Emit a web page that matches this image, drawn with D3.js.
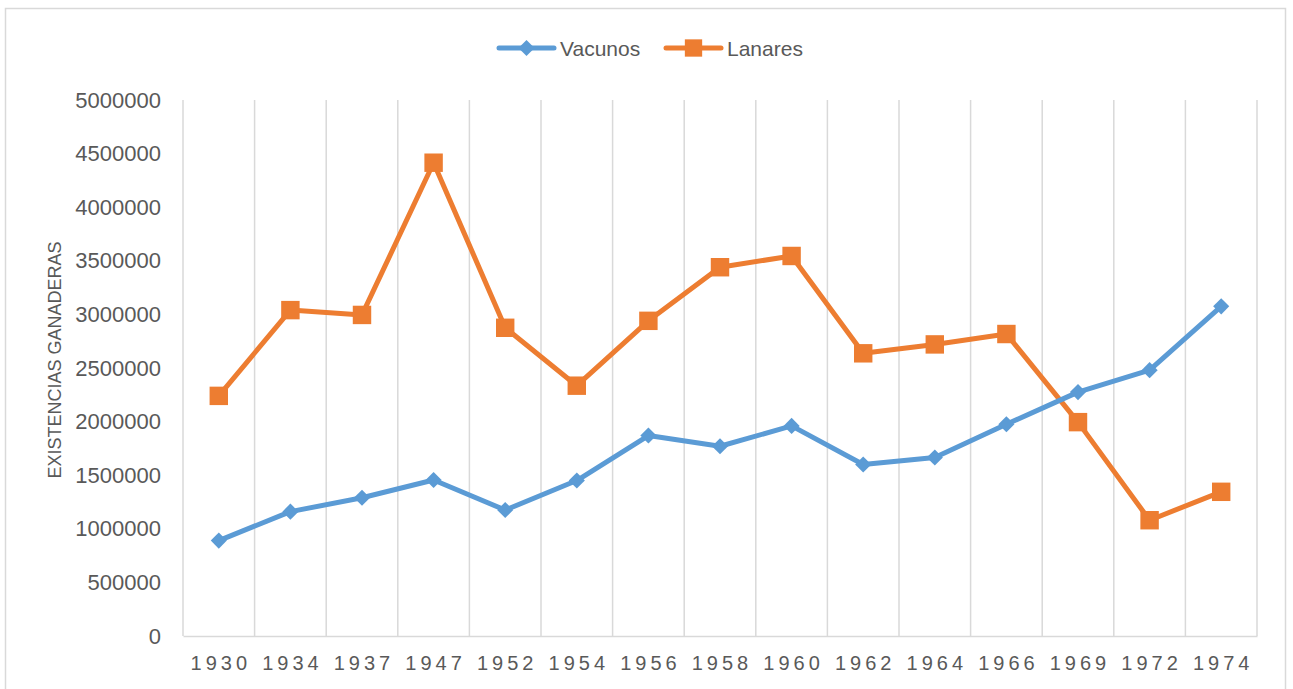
<!DOCTYPE html>
<html>
<head>
<meta charset="utf-8">
<script src="https://cdn.jsdelivr.net/npm/d3@7"></script>
<style>
  body { margin: 0; background: #fff; }
  text { font-family: "Liberation Sans", Arial, sans-serif; fill: #595959; }
</style>
</head>
<body>
<svg id="chart" width="1293" height="689"></svg>
<script>
// data
var years = ["1930", "1934", "1937", "1947", "1952", "1954", "1956", "1958",
             "1960", "1962", "1964", "1966", "1969", "1972", "1974"];
var vacunos = [890000, 1160000, 1290000, 1455000, 1175000, 1450000, 1870000, 1770000,
               1960000, 1600000, 1665000, 1975000, 2275000, 2480000, 3075000];
var lanares = [2240000, 3040000, 2995000, 4415000, 2875000, 2335000, 2940000, 3440000,
               3545000, 2637000, 2720000, 2817000, 1995000, 1080000, 1345000];
var yTicks = [0, 500000, 1000000, 1500000, 2000000, 2500000, 3000000, 3500000,
              4000000, 4500000, 5000000];

var blue = "#5B9BD5", orange = "#ED7D31", grid = "#D9D9D9";

var svg = d3.select("#chart");

// outer chart frame
svg.append("rect")
    .attr("x", 5.5).attr("y", 8.5)
    .attr("width", 1280).attr("height", 700)
    .attr("fill", "none")
    .attr("stroke", grid)
    .attr("stroke-width", 1.5);

var plotLeft = 183, plotRight = 1257, plotTop = 100, plotBottom = 636;

var x = d3.scaleBand().domain(years).range([plotLeft, plotRight]);
var y = d3.scaleLinear().domain([0, 5000000]).range([plotBottom, plotTop]);

// vertical gridlines at the category boundaries
var bounds = years.map(function(d) { return x(d); }).concat([plotRight]);
svg.append("g").selectAll("line")
    .data(bounds)
    .enter().append("line")
    .attr("x1", function(d) { return d; })
    .attr("x2", function(d) { return d; })
    .attr("y1", plotTop).attr("y2", plotBottom)
    .attr("stroke", grid)
    .attr("stroke-width", 1.5);

// y axis (labels only)
var yAxis = svg.append("g")
    .attr("transform", "translate(" + plotLeft + ",0)")
    .call(d3.axisLeft(y).tickValues(yTicks).tickSize(0).tickPadding(22).tickFormat(d3.format("d")));
yAxis.select(".domain").remove();
yAxis.selectAll("text")
    .style("font-family", "'Liberation Sans', Arial, sans-serif")
    .style("font-size", "22px")
    .attr("fill", "#595959");

// x axis
var xAxis = svg.append("g")
    .attr("transform", "translate(0," + plotBottom + ")")
    .call(d3.axisBottom(x).tickSize(0).tickPadding(20));
xAxis.select(".domain")
    .attr("stroke", grid)
    .attr("stroke-width", 1.5);
xAxis.selectAll("text")
    .style("font-family", "'Liberation Sans', Arial, sans-serif")
    .style("font-size", "20px")
    .style("letter-spacing", "4px")
    .attr("dx", "2px")
    .attr("fill", "#595959");

// y axis title
svg.append("text")
    .attr("transform", "translate(61," + ((plotTop + plotBottom) / 2 - 8) + ") rotate(-90)")
    .attr("text-anchor", "middle")
    .style("font-size", "18px")
    .text("EXISTENCIAS GANADERAS");

var line = d3.line()
    .x(function(d, i) { return x(years[i]) + x.bandwidth() / 2; })
    .y(function(d) { return y(d); });

function drawSeries(data, color, diamond, size) {
    svg.append("path")
        .datum(data)
        .attr("d", line)
        .attr("fill", "none")
        .attr("stroke", color)
        .attr("stroke-width", 5)
        .attr("stroke-linejoin", "round");
    svg.append("g").selectAll("path")
        .data(data)
        .enter().append("path")
        .attr("d", d3.symbol().type(d3.symbolSquare).size(size))
        .attr("transform", function(d, i) {
            var px = x(years[i]) + x.bandwidth() / 2;
            return "translate(" + px + "," + y(d) + ")" + (diamond ? " rotate(45)" : "");
        })
        .attr("fill", color);
}

drawSeries(lanares, orange, false, 340);
drawSeries(vacunos, blue, true, 130);

// legend
var legend = [
    { name: "Vacunos", color: blue, x: 499, diamond: true },
    { name: "Lanares", color: orange, x: 666, diamond: false }
];
var lg = svg.append("g").selectAll("g")
    .data(legend)
    .enter().append("g")
    .attr("transform", function(d) { return "translate(" + d.x + ",48)"; });
lg.append("line")
    .attr("x1", 0).attr("x2", 55)
    .attr("stroke", function(d) { return d.color; })
    .attr("stroke-width", 5)
    .attr("stroke-linecap", "round");
lg.append("path")
    .attr("d", function(d) { return d3.symbol().type(d3.symbolSquare).size(d.diamond ? 130 : 300)(); })
    .attr("transform", function(d) { return "translate(27.5,0)" + (d.diamond ? " rotate(45)" : ""); })
    .attr("fill", function(d) { return d.color; });
lg.append("text")
    .attr("x", 61)
    .attr("dy", "0.36em")
    .style("font-size", "21px")
    .text(function(d) { return d.name; });
</script>
</body>
</html>
